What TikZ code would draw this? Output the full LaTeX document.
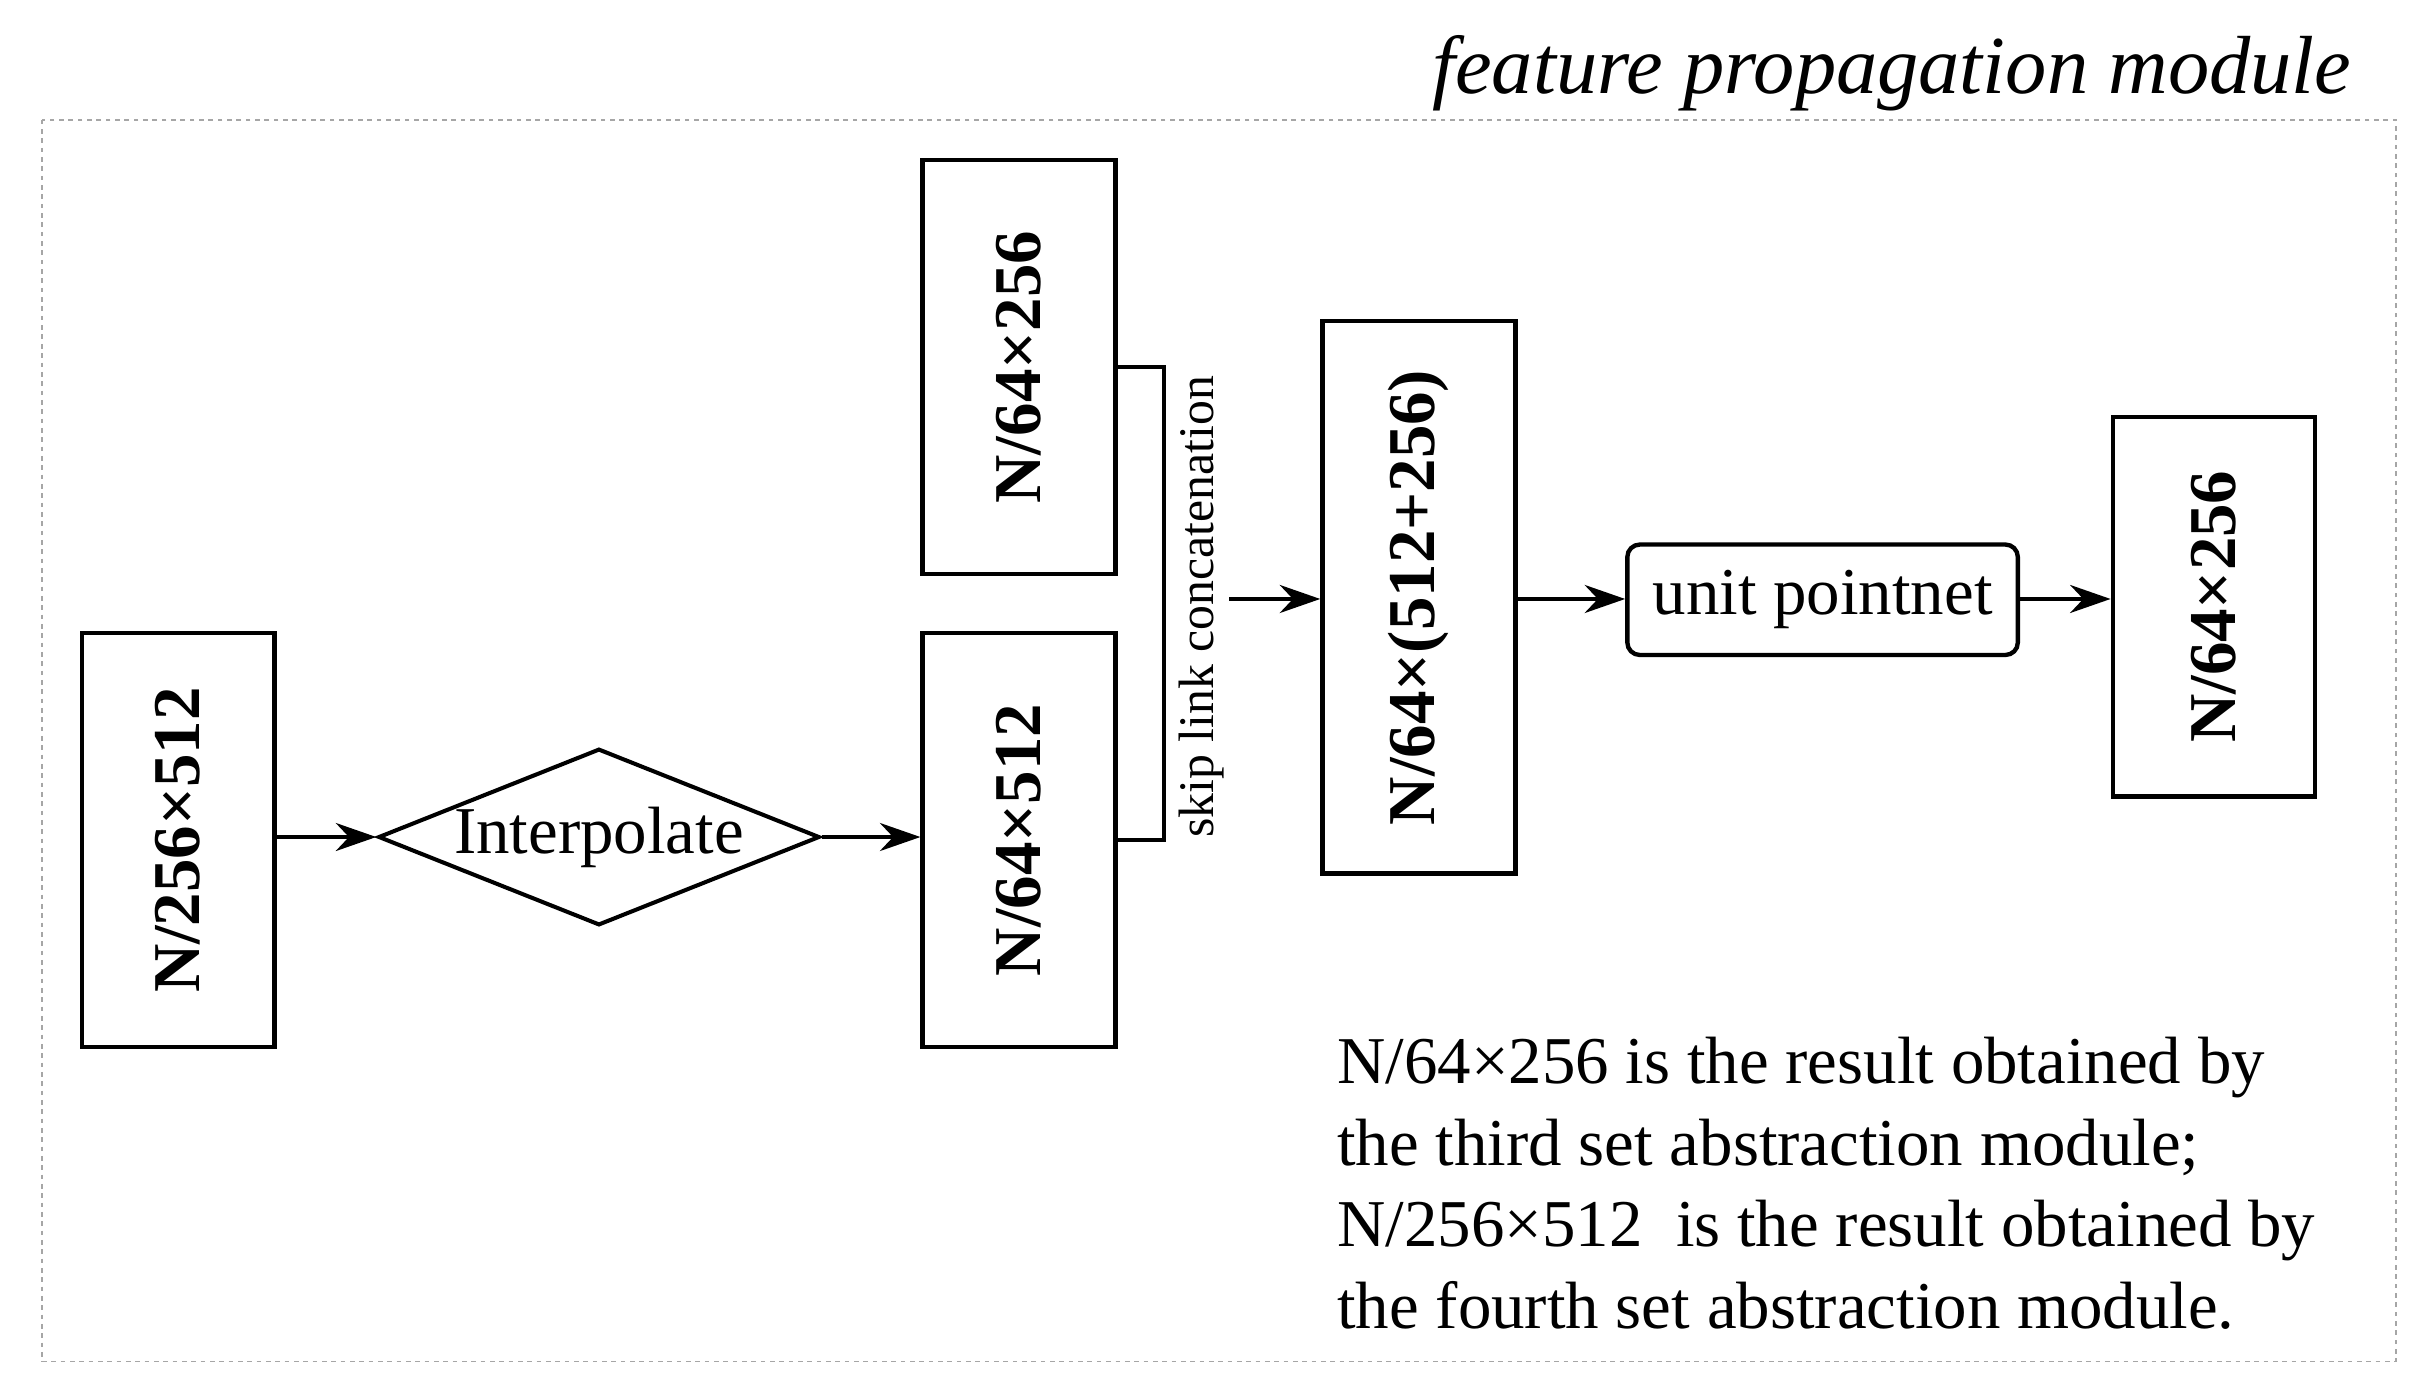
\documentclass[tikz,border=0pt]{standalone}
\usepackage{fontspec}
\setmainfont{Liberation Serif}
\usetikzlibrary{shapes.geometric,arrows.meta}
\begin{document}
\begin{tikzpicture}[x=1pt,y=-1pt,
  box/.style={draw,line width=2.8pt,minimum width=124pt,inner sep=0pt},
  lab/.style={rotate=90,font=\fontsize{43}{45}\selectfont\bfseries},
  arr/.style={-{Stealth[length=26pt,width=18pt]},line width=2.6pt}]
\useasboundingbox (0,0) rectangle (1560,892);
\draw[gray!70,dashed,line width=1pt] (27,77) rectangle (1540,875);
\node[anchor=base east,font=\fontsize{53}{55}\selectfont\itshape] (title) at (1515,60) {feature propagation module};
\node[box,minimum height=266pt] (A) at (114.5,540) {};
\node[lab] at (A) {N/256×512};
\node[draw,diamond,aspect=2.5,line width=2.6pt,minimum width=280pt,minimum height=112pt,inner sep=0pt,font=\fontsize{43}{45}\selectfont] (I) at (385,538) {Interpolate};
\node[box,minimum height=266pt] (B) at (655,236) {};
\node[lab] at (B) {N/64×256};
\node[box,minimum height=266pt] (C) at (655,540) {};
\node[lab] at (C) {N/64×512};
\node[box,minimum height=355pt] (D) at (912,384) {};
\node[lab] at (D) {N/64×(512+256)};
\node[draw,rounded corners=8pt,line width=2.8pt,minimum width=251pt,minimum height=71pt,font=\fontsize{43}{45}\selectfont] (U) at (1171.5,385.5) {unit pointnet};
\node[box,minimum width=130pt,minimum height=244pt] (E) at (1423,390) {};
\node[lab] at (E) {N/64×256};
\coordinate (s) at (790,385);
\draw[line width=2.6pt] (B.east |- 0,236) -- (748,236) -- (748,540) -- (C.east |- 0,540);
\node[rotate=90,font=\fontsize{32}{34}\selectfont] (sk) at (772,390) {skip link concatenation};
\draw[arr] (A.east |- 0,538) -- (I.west);
\draw[arr] (I.east) -- (C.west |- 0,538);
\draw[arr] (s) -- (D.west |- s);
\draw[arr] (D.east |- s) -- (U.west |- s);
\draw[arr] (U.east |- s) -- (E.west |- s);
\node[anchor=north west,align=left,font=\fontsize{43}{52.5}\selectfont] (note) at (856,663) {N/64×256 is the result obtained by\\the third set abstraction module;\\N/256×512~ is the result obtained by\\the fourth set abstraction module.};
\end{tikzpicture}
\end{document}
